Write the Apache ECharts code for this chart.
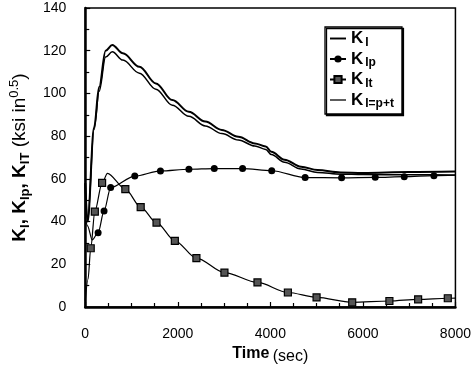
<!DOCTYPE html>
<html><head><meta charset="utf-8">
<script src="https://cdn.jsdelivr.net/npm/echarts@6/dist/echarts.min.js"></script>
<style>html,body{margin:0;padding:0;background:#fff}#c{width:474px;height:376px}</style>
</head><body><div id="c"></div>
<script>
// ---- data ----
const xTickLabels = ['0', '2000', '4000', '6000', '8000'];
const yTickLabels = ['0', '20', '40', '60', '80', '100', '120', '140'];

// K_I (upper curve, no markers)
const kiTime = [0, 50, 190, 300, 440, 584, 813, 1170, 1526, 1882, 2239, 2595, 2952, 3309, 3665, 3900, 4021, 4306, 4663, 5020, 5519, 6000, 7000, 8000];
const kiVal  = [58, 40, 84, 103, 120, 122.7, 118.8, 112.5, 104.7, 96.9, 91.4, 86.8, 82.9, 79.7, 76.6, 75.2, 72.7, 69, 65.7, 64.1, 63, 62.8, 63.2, 63.4];

// K_I=p+t (lower curve, no markers)
const kiptTime = [0, 50, 190, 300, 440, 584, 813, 1170, 1526, 1882, 2239, 2595, 2952, 3309, 3665, 3900, 4021, 4306, 4663, 5020, 5519, 6000, 7000, 8000];
const kiptVal  = [58, 40, 83, 101, 117, 119.5, 115.6, 109.5, 102, 94.5, 89.3, 84.8, 81.2, 78.2, 75.4, 73.8, 71.4, 67.8, 64.6, 63, 62.2, 62, 61.9, 61.8];

// K_Ip (circle markers)
const kpTime = [0, 50, 150, 278, 406, 549, 1070, 1625, 2240, 2788, 3400, 4030, 4752, 5540, 6267, 6894, 7535, 8000];
const kpVal  = [42, 38, 31.4, 34.8, 45, 55.9, 61.3, 63.7, 64.5, 64.8, 64.8, 63.8, 60.6, 60.5, 60.7, 61, 61.5, 61.7];
const kpUnmarked = [0, 1, 2, 17];

// K_It (square markers)
const ktTime = [0, 60, 118, 207, 364, 480, 866, 1198, 1540, 1936, 2402, 3008, 3722, 4379, 4999, 5769, 6573, 7194, 7835, 8000];
const ktVal  = [3, 13, 27.5, 44.7, 58.1, 62.6, 55.2, 46.8, 39.5, 31.0, 22.9, 16.1, 11.5, 6.8, 4.5, 2.2, 2.8, 3.6, 4.1, 4.2];
const ktUnmarked = [0, 1, 5, 19];

function build(t, v, unmarked) {
  return t.map((x, i) => (unmarked && unmarked.includes(i))
    ? { value: [x, v[i]], symbol: 'none' }
    : [x, v[i]]);
}

const chart = echarts.init(document.getElementById('c'), null, { renderer: 'canvas' });

const tickFont = { fontFamily: 'Liberation Sans Narrow, Liberation Sans, Arial', fontSize: 14, color: '#000' };

const legendNames = { KI: '{k|K}{s|I}', KIp: '{k|K}{s|Ip}', KIt: '{k|K}{s|It}', KIpt: '{k|K}{s|I=p+t}' };

const option = {
  animation: false,
  backgroundColor: '#fff',
  grid: { left: 82, right: 18, top: 8, bottom: 69, show: true, borderColor: '#000', borderWidth: 1.5, backgroundColor: 'transparent' },
  xAxis: {
    type: 'value', min: 0, max: 8000, interval: 2000,
    name: '{b|Time} {r|(sec)}', nameLocation: 'middle', nameGap: 32,
    nameTextStyle: {
      rich: {
        b: { fontFamily: 'Liberation Sans, Arial', fontWeight: 'bold', fontSize: 16, color: '#000', lineHeight: 22, verticalAlign: 'middle' },
        r: { fontFamily: 'Liberation Sans, Arial', fontSize: 16, color: '#000', lineHeight: 22, verticalAlign: 'bottom' }
      }
    },
    axisLine: { lineStyle: { color: '#000', width: 2.5 } },
    axisTick: { inside: true, length: 5, lineStyle: { color: '#000', width: 1.2 } },
    minorTick: { show: true, splitNumber: 4, length: 4, lineStyle: { color: '#000', width: 1.2 } },
    splitLine: { show: false },
    axisLabel: Object.assign({ margin: 20, formatter: (val) => xTickLabels[Math.round(val / 2000)] }, tickFont)
  },
  yAxis: {
    type: 'value', min: 0, max: 140, interval: 20,
    name: '{k|K}{s|I}{k|, K}{s|Ip}{k|, K}{s|IT}{r| (ksi in}{p|0.5}{r|)}',
    nameLocation: 'middle', nameRotate: 90, nameGap: 42,
    nameTextStyle: {
      rich: {
        k: { fontFamily: 'Liberation Sans, Arial', fontWeight: 'bold', fontSize: 19, color: '#000', lineHeight: 24, verticalAlign: 'middle' },
        s: { fontFamily: 'Liberation Sans, Arial', fontWeight: 'bold', fontSize: 13, color: '#000', lineHeight: 24, verticalAlign: 'bottom' },
        r: { fontFamily: 'Liberation Sans, Arial', fontSize: 19, color: '#000', lineHeight: 24, verticalAlign: 'middle' },
        p: { fontFamily: 'Liberation Sans, Arial', fontSize: 13, color: '#000', lineHeight: 24, verticalAlign: 'top' }
      }
    },
    axisLine: { show: true, lineStyle: { color: '#000', width: 2.5 } },
    axisTick: { show: true, inside: true, length: 5, lineStyle: { color: '#000', width: 1.2 } },
    minorTick: { show: true, splitNumber: 2, length: 4, lineStyle: { color: '#000', width: 1.2 } },
    splitLine: { show: false },
    axisLabel: Object.assign({ margin: 19, formatter: (val) => yTickLabels[Math.round(val / 20)] }, tickFont)
  },
  legend: {
    left: 325, top: 27, orient: 'vertical',
    itemWidth: 16, itemHeight: 9, itemGap: 2,
    padding: [3, 8, 4, 4],
    backgroundColor: '#fff', borderColor: '#000', borderWidth: 1.3,
    shadowColor: '#000', shadowBlur: 0, shadowOffsetX: 1.5, shadowOffsetY: 1.5,
    data: [
      { name: 'KI', icon: 'path://M0,0H20V2.4H0Z' },
      { name: 'KIp' },
      { name: 'KIt' },
      { name: 'KIpt', icon: 'path://M0,0H20V1.6H0Z' }
    ],
    formatter: (n) => legendNames[n],
    textStyle: {
      rich: {
        k: { fontFamily: 'Liberation Sans, Arial', fontWeight: 'bold', fontSize: 17, color: '#000', lineHeight: 20, verticalAlign: 'middle' },
        s: { fontFamily: 'Liberation Sans, Arial', fontWeight: 'bold', fontSize: 12, color: '#000', lineHeight: 20, verticalAlign: 'bottom', padding: [0, 0, 0, 2] }
      }
    }
  },
  series: [
    {
      name: 'KI', type: 'line', data: build(kiTime, kiVal), symbol: 'none',
      smooth: 0.35, smoothMonotone: 'x',
      lineStyle: { color: '#000', width: 2 }, itemStyle: { color: '#000' }, z: 3
    },
    {
      name: 'KIp', type: 'line', data: build(kpTime, kpVal, kpUnmarked), symbol: 'circle', symbolSize: 7,
      smooth: 0.3, smoothMonotone: 'x',
      lineStyle: { color: '#000', width: 1.2 }, itemStyle: { color: '#000' }, z: 4
    },
    {
      name: 'KIt', type: 'line', data: build(ktTime, ktVal, ktUnmarked), symbol: 'rect', symbolSize: 7,
      smooth: 0.3, smoothMonotone: 'x',
      lineStyle: { color: '#000', width: 1.2 }, itemStyle: { color: '#555', borderColor: '#000', borderWidth: 1.2 }, z: 4
    },
    {
      name: 'KIpt', type: 'line', data: build(kiptTime, kiptVal), symbol: 'none',
      smooth: 0.35, smoothMonotone: 'x',
      lineStyle: { color: '#000', width: 1.5 }, itemStyle: { color: '#000' }, z: 3
    }
  ]
};
chart.setOption(option);
</script>
</body></html>
